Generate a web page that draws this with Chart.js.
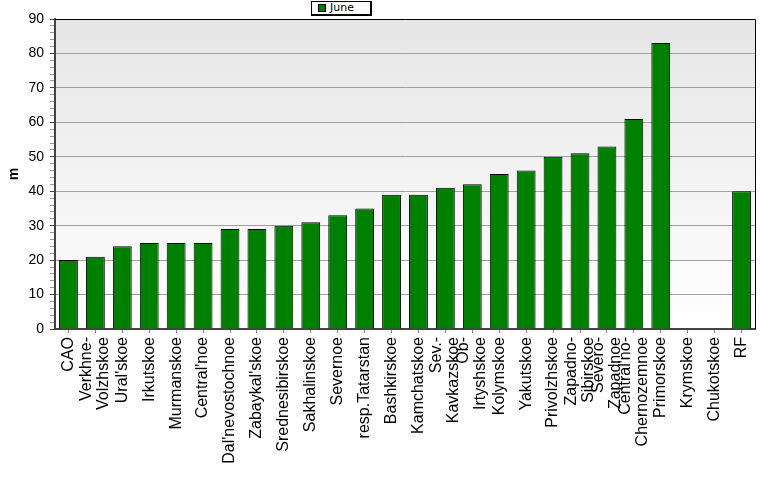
<!DOCTYPE html>
<html>
<head>
<meta charset="utf-8">
<script src="https://cdn.jsdelivr.net/npm/chart.js@4"></script>
<style>
  html, body { margin: 0; padding: 0; background: #fff; }
  #wrap { position: relative; width: 777px; height: 479px; }
  #legend {
    position: absolute; left: 311px; top: 1px; height: 12px; width: 58px;
    border: 1px solid #000; border-right-width: 2px; border-bottom-width: 2px;
    background: #fff; font: 11px "DejaVu Sans", sans-serif; line-height: 12px;
  }
  #legend i {
    position: absolute; left: 6px; top: 2px; width: 6px; height: 6px;
    background: #008000; border: 1px solid #000;
  }
  #legend span { position: absolute; left: 18px; top: 0; }
</style>
</head>
<body>
<div id="wrap">
  <canvas id="c" width="777" height="479"></canvas>
  <div id="legend"><i></i><span>June</span></div>
</div>
<script>
// ── data ──────────────────────────────────────────────────────────────
const regions = [
  'CAO', ['Verkhne-', 'Volzhskoe'], "Ural'skoe", 'Irkutskoe', 'Murmanskoe',
  "Central'noe", "Dal'nevostochnoe", "Zabaykal'skoe", 'Srednesibirskoe',
  'Sakhalinskoe', 'Severnoe', 'resp.Tatarstan', 'Bashkirskoe', 'Kamchatskoe',
  ['Sev.-', 'Kavkazskoe'], ['Ob-', 'Irtyshskoe'], 'Kolymskoe', 'Yakutskoe',
  'Privolzhskoe', ['Zapadno-', 'Sibirskoe'], ['Severo-', 'Zapadnoe'],
  ["Central'no-", 'Chernozemnoe'], 'Primorskoe', 'Krymskoe', 'Chukotskoe', 'RF'
];
const june = [20, 21, 24, 25, 25, 25, 29, 29, 30, 31, 33, 35, 39, 39,
              41, 42, 45, 46, 50, 51, 53, 61, 83, null, null, 40];
const yMin = 0, yMax = 90, yMinorStep = 2, yMajorStep = 10;

const GREEN = '#008000';
const AXIS = '#444';
const GRID = '#a0a0a0';
const FONT = '"Liberation Sans", Arial, sans-serif';

// plot background + frame
const frame = {
  id: 'frame',
  beforeDraw(chart) {
    const { ctx, chartArea: a } = chart;
    const g = ctx.createLinearGradient(0, a.top, 0, a.bottom);
    g.addColorStop(0, '#e6e6e6');
    g.addColorStop(1, '#ffffff');
    ctx.save();
    ctx.fillStyle = g;
    ctx.fillRect(a.left, a.top, a.right - a.left, a.bottom - a.top);
    ctx.restore();

    // centre multi-line rotated labels on their tick
    const xs = chart.scales.x;
    xs.getLabelItems(a).forEach(item => {
      if (Array.isArray(item.label) && item.label.length > 1) {
        const lh = item.font.lineHeight;
        item.textOffset -= (item.label.length - 1) * lh / 2;
      }
    });
  },
  afterDraw(chart) {
    const { ctx, chartArea: a } = chart;
    ctx.save();
    ctx.strokeStyle = '#000';
    ctx.lineWidth = 1;
    ctx.beginPath();
    ctx.moveTo(a.left, a.top + 0.5);
    ctx.lineTo(a.right + 0.5, a.top + 0.5);
    ctx.lineTo(a.right + 0.5, a.bottom);
    ctx.stroke();
    ctx.restore();
  }
};

new Chart(document.getElementById('c'), {
  type: 'bar',
  data: {
    labels: regions,
    datasets: [{
      label: 'June',
      data: june,
      backgroundColor: GREEN,
      borderColor: '#000',
      borderWidth: 1,
      barPercentage: 0.7,
      categoryPercentage: 1,
    }],
  },
  options: {
    responsive: false,
    animation: false,
    layout: { padding: { top: 19, right: 22 } },
    plugins: {
      legend: { display: false },
      tooltip: { enabled: false },
    },
    scales: {
      x: {
        grid: { offset: false, drawOnChartArea: false, tickLength: 4, tickColor: '#888' },
        border: { color: AXIS, width: 2 },
        ticks: {
          color: '#000', font: { family: FONT, size: 16, lineHeight: 1.05 },
          minRotation: 90, maxRotation: 90, autoSkip: false, padding: 4,
        },
        afterFit(s) { s.height = 150; },
      },
      y: {
        min: yMin, max: yMax,
        grid: {
          color: c => (c.tick && c.tick.value % yMajorStep === 0 && c.tick.value > 0) ? GRID : 'transparent',
          tickColor: c => (c.tick && c.tick.value % yMajorStep === 0) ? AXIS : '#999',
          tickLength: 5,
        },
        border: { color: AXIS, width: 2 },
        ticks: {
          stepSize: yMinorStep, autoSkip: false, color: '#000', padding: 6,
          font: { family: FONT, size: 14 },
          callback: v => v % yMajorStep === 0 ? v : '',
        },
        title: { display: true, text: 'm', color: '#000', font: { family: FONT, size: 14, weight: 'bold' }, padding: { top: 6, bottom: 0 } },
        afterFit(s) { s.width = 55; },
      },
    },
  },
  plugins: [frame],
});
</script>
</body>
</html>
